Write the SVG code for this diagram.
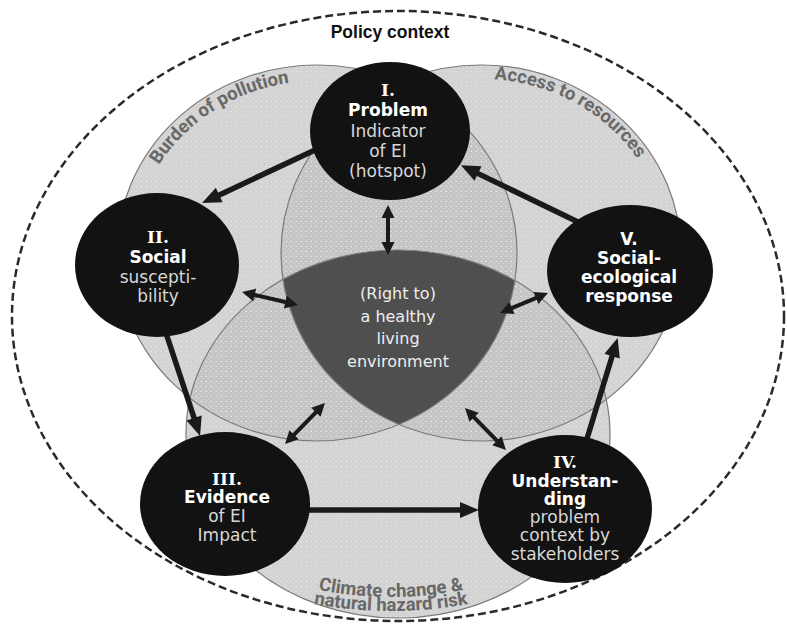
<svg xmlns="http://www.w3.org/2000/svg" width="787" height="628" viewBox="0 0 787 628">
<style>
.t{font-family:'DejaVu Sans',sans-serif;font-size:17px;text-anchor:middle}
.b{font-weight:bold;fill:#fff}
.r{fill:#d8d8d8}
.num{font-family:'DejaVu Serif',serif;font-weight:bold;fill:#fff}
.ct{font-family:Roboto,'Liberation Sans',sans-serif;font-weight:bold;font-size:18.5px;fill:#686868}
.ctr{font-family:'DejaVu Sans',sans-serif;font-size:16px;fill:#eeeeee;text-anchor:middle}
.node{fill:#121212}
.main{stroke:#1a1a1a;stroke-width:5.5;fill:none;marker-end:url(#ah)}
.dbl{stroke:#1a1a1a;stroke-width:4;fill:none;marker-start:url(#dh);marker-end:url(#dh)}
.venn{fill:none;stroke:#7a7a7a;stroke-width:1.2}
</style>
<defs>
<ellipse id="cL" cx="317" cy="253" rx="200" ry="188"/>
<ellipse id="cR" cx="481" cy="253" rx="200" ry="188"/>
<ellipse id="cB" cx="398" cy="434" rx="212" ry="184"/>
<clipPath id="clipL"><use href="#cL"/></clipPath>
<clipPath id="clipR"><use href="#cR"/></clipPath>
<pattern id="dots" width="5" height="5" patternUnits="userSpaceOnUse">
<circle cx="1.2" cy="1.2" r="0.55" fill="#fff" opacity="0.75"/>
<circle cx="3.7" cy="3.7" r="0.45" fill="#fff" opacity="0.5"/>
</pattern>
<marker id="ah" markerUnits="userSpaceOnUse" markerWidth="19" markerHeight="16" refX="1" refY="8" orient="auto" overflow="visible"><path d="M0,0 L19,8 L0,16 z" fill="#1a1a1a"/></marker>
<marker id="dh" markerUnits="userSpaceOnUse" markerWidth="13" markerHeight="13" refX="1" refY="6.5" orient="auto-start-reverse" overflow="visible"><path d="M0,0 L13,6.5 L0,13 z" fill="#1a1a1a"/></marker>
<path id="pBurden" d="M139.8,206.7 A184,172 0 0 1 335,81.8"/>
<path id="pAccess" d="M451.9,81.1 A186,174 0 0 1 656.9,196.3"/>
<path id="pClim1" d="M261,573.4 A370,370 0 0 0 521,573.4"/>
<path id="pClim2" d="M251,587.2 A423,423 0 0 0 531,587.2"/>
</defs>
<rect width="787" height="628" fill="#fff"/>
<ellipse id="policy-context" cx="398" cy="316" rx="386" ry="305" fill="none" stroke="#2a2a2a" stroke-width="2.5" stroke-dasharray="8 4"/>
<text x="390" y="38" font-family="'Liberation Sans',Arial,sans-serif" font-weight="bold" font-size="17.5" text-anchor="middle" fill="#111">Policy context</text>
<g id="venn">
<use href="#cL" fill="#d3d3d3"/>
<use href="#cR" fill="#d3d3d3"/>
<use href="#cB" fill="#d3d3d3"/>
<use href="#cR" fill="#c4c4c4" clip-path="url(#clipL)"/>
<use href="#cB" fill="#c4c4c4" clip-path="url(#clipL)"/>
<use href="#cB" fill="#c4c4c4" clip-path="url(#clipR)"/>
<use href="#cL" fill="url(#dots)"/>
<use href="#cR" fill="url(#dots)"/>
<use href="#cB" fill="url(#dots)"/>
<g clip-path="url(#clipL)"><use href="#cB" fill="#4f4f4f" clip-path="url(#clipR)"/></g>
<use href="#cL" class="venn"/>
<use href="#cR" class="venn"/>
<use href="#cB" class="venn"/>
<text class="ct"><textPath href="#pBurden" startOffset="50%" text-anchor="middle">Burden of pollution</textPath></text>
<text class="ct"><textPath href="#pAccess" startOffset="50%" text-anchor="middle">Access to resources</textPath></text>
<text class="ct"><textPath href="#pClim1" startOffset="50%" text-anchor="middle">Climate change &amp;</textPath></text>
<text class="ct"><textPath href="#pClim2" startOffset="50%" text-anchor="middle">natural hazard risk</textPath></text>
</g>
<g id="center">
<text class="ctr" x="398" y="299">(Right to)</text>
<text class="ctr" x="398" y="322">a healthy</text>
<text class="ctr" x="398" y="344">living</text>
<text class="ctr" x="398" y="367">environment</text>
</g>
<g id="connectors">
<line class="main" x1="315" y1="150" x2="218.3" y2="195.4"/>
<line class="main" x1="165" y1="330" x2="194.4" y2="418.9"/>
<line class="main" x1="300" y1="510" x2="461" y2="510"/>
<line class="main" x1="586" y1="442" x2="612.4" y2="355.2"/>
<line class="main" x1="578" y1="222" x2="477.1" y2="173.1"/>
<line class="dbl" x1="388" y1="217" x2="388" y2="243"/>
<line class="dbl" x1="253.7" y1="294.7" x2="286.3" y2="302.3"/>
<line class="dbl" x1="536.9" y1="297.6" x2="511.1" y2="308.4"/>
<line class="dbl" x1="293.4" y1="435.4" x2="316.6" y2="411.6"/>
<line class="dbl" x1="473.4" y1="416.6" x2="497.6" y2="441.4"/>
</g>
<g id="node-I">
<ellipse class="node" cx="390" cy="131" rx="80" ry="69"/>
<text class="t"><tspan class="num" x="388" y="96">I.</tspan><tspan class="b" x="388" y="116">Problem</tspan><tspan class="r" x="388" y="137">Indicator</tspan><tspan class="r" x="388" y="157">of EI</tspan><tspan class="r" x="388" y="177">(hotspot)</tspan></text>
</g>
<g id="node-II">
<ellipse class="node" cx="157" cy="265" rx="82" ry="72"/>
<text class="t"><tspan class="num" x="158" y="243">II.</tspan><tspan class="b" x="158" y="263">Social</tspan><tspan class="r" x="158" y="283">suscepti-</tspan><tspan class="r" x="158" y="302">bility</tspan></text>
</g>
<g id="node-III">
<ellipse class="node" cx="225" cy="504" rx="85" ry="72"/>
<text class="t" font-size="15.5"><tspan class="num" x="227" y="485">III.</tspan><tspan class="b" x="227" y="503">Evidence</tspan><tspan class="r" x="227" y="522">of EI</tspan><tspan class="r" x="227" y="541">Impact</tspan></text>
</g>
<g id="node-IV">
<ellipse class="node" cx="565" cy="509" rx="87" ry="74"/>
<text class="t" font-size="15.5"><tspan class="num" x="565" y="468">IV.</tspan><tspan class="b" x="565" y="487">Understan-</tspan><tspan class="b" x="565" y="505">ding</tspan><tspan class="r" x="565" y="523">problem</tspan><tspan class="r" x="565" y="541">context by</tspan><tspan class="r" x="565" y="560">stakeholders</tspan></text>
</g>
<g id="node-V">
<ellipse class="node" cx="630" cy="271" rx="83" ry="66"/>
<text class="t"><tspan class="b" x="629" y="245">V.</tspan><tspan class="b" x="629" y="264">Social-</tspan><tspan class="b" x="629" y="283">ecological</tspan><tspan class="b" x="629" y="302">response</tspan></text>
</g>
</svg>
